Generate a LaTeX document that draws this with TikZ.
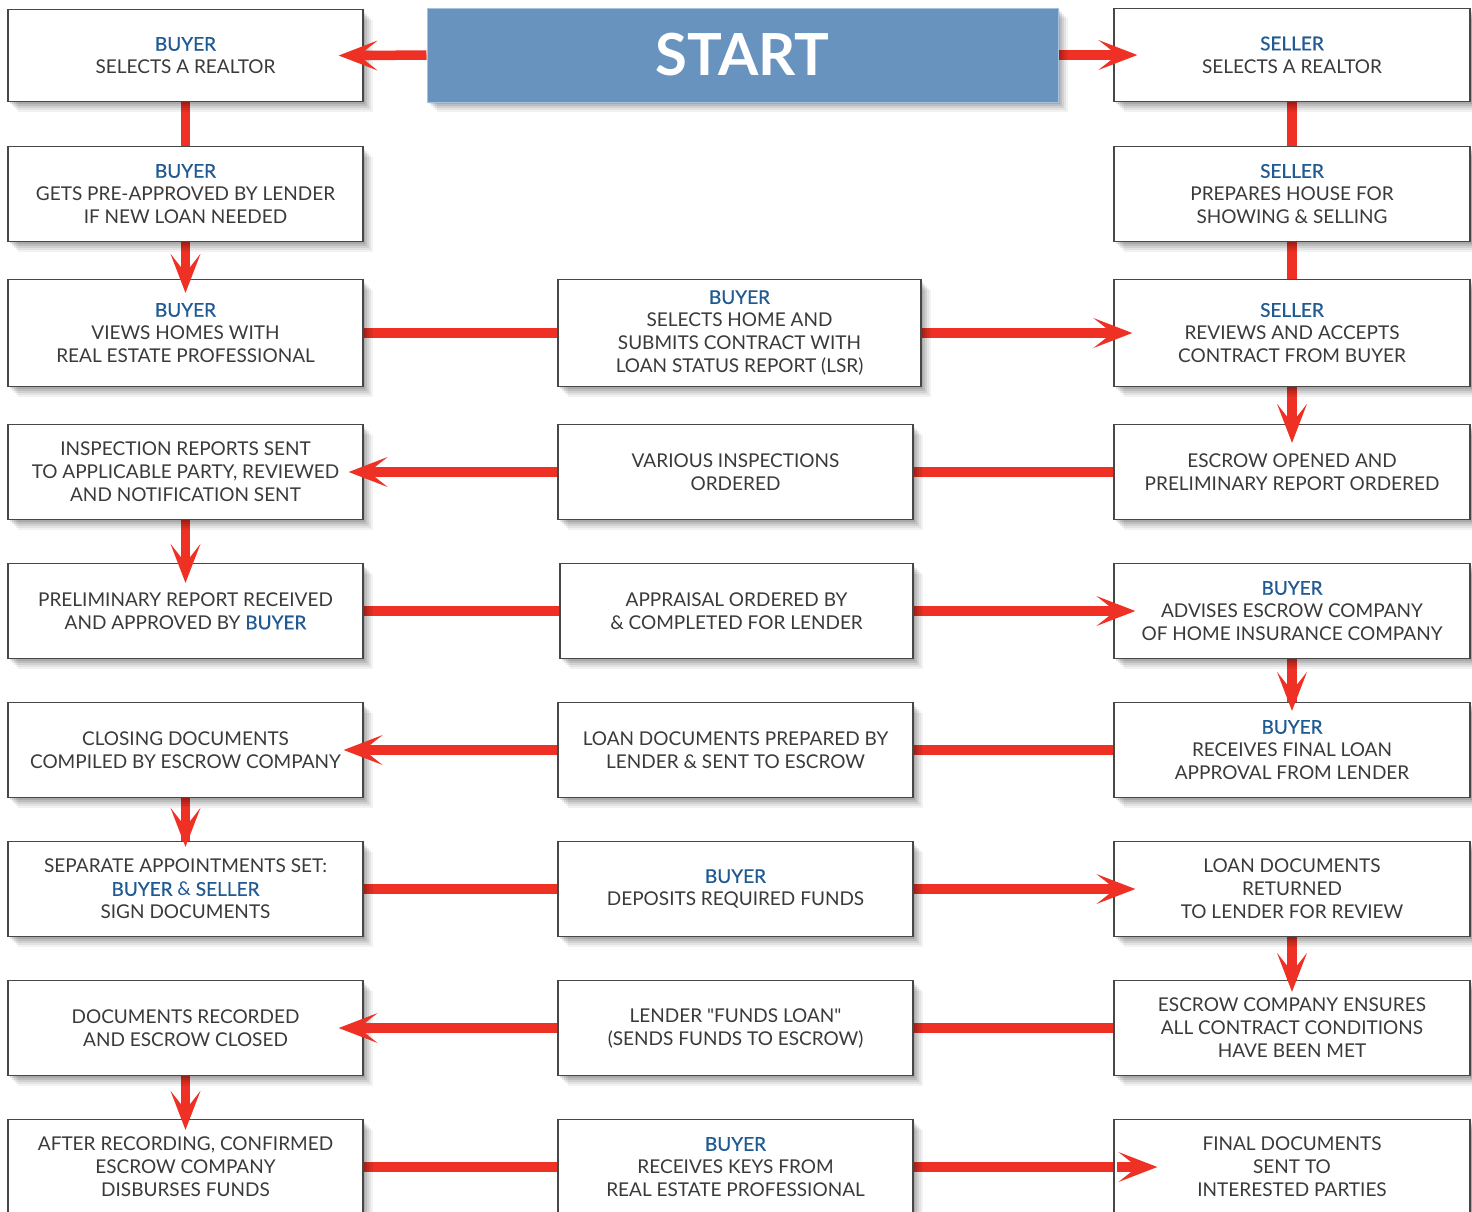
\documentclass[tikz,border=0pt]{standalone}
\usepackage{fontspec}
\setmainfont{Lato}
\newfontfamily\lblfont[FakeBold=0.5]{Lato}
\usetikzlibrary{arrows.meta,shadows}
\definecolor{redc}{HTML}{EE3124}
\definecolor{lblc}{HTML}{1F5A93}
\definecolor{txtc}{HTML}{3A3A3A}
\definecolor{startc}{HTML}{6893BE}
\definecolor{startb}{HTML}{A9C1DB}
\newcommand\who[1]{{\lblfont\color{lblc}#1}}
\pgfdeclarelayer{bg}\pgfdeclarelayer{fg}\pgfsetlayers{bg,main,fg}
\tikzset{
  softshadow/.style={
    general shadow={shadow xshift=2pt,shadow yshift=-2pt,fill=black,opacity=.10},
    general shadow={shadow xshift=4pt,shadow yshift=-4pt,fill=black,opacity=.09},
    general shadow={shadow xshift=6pt,shadow yshift=-6pt,fill=black,opacity=.08},
    general shadow={shadow xshift=8pt,shadow yshift=-8pt,fill=black,opacity=.06},
    general shadow={shadow xshift=10pt,shadow yshift=-10pt,fill=black,opacity=.05}},
  box/.style={draw=black!72, line width=1.3pt, fill=white, inner sep=0pt,
    align=center, text=txtc, font=\fontsize{19}{23}\selectfont,
    minimum width=355pt, minimum height=95pt, softshadow},
  startbox/.style={draw=startb, line width=1pt, fill=startc, inner sep=0pt,
    text=white, font=\fontsize{58}{60}\selectfont\bfseries,
    minimum width=631pt, minimum height=94pt, softshadow},
  shaft/.style={draw=redc, line width=9.5pt},
  arr/.style={draw=redc, line width=9.5pt,
    -{Stealth[length=39pt,width=30pt,inset=19pt,line width=0pt]}}
}
\begin{document}
\begin{tikzpicture}[x=1pt,y=-1pt]
\useasboundingbox (0,0) rectangle (1472,1211);
% nodes
\node[startbox] (st) at (742.5,55) {START};
\node[box,minimum height=92pt] (l1) at (185.5,55.5) {\who{BUYER}\\SELECTS A REALTOR};
\node[box,minimum width=356pt,minimum height=93pt] (r1) at (1292,55) {\who{SELLER}\\SELECTS A REALTOR};
\node[box] (l2) at (185.5,194) {\who{BUYER}\\GETS PRE-APPROVED BY LENDER\\IF NEW LOAN NEEDED};
\node[box,minimum width=356pt] (r2) at (1292,194) {\who{SELLER}\\PREPARES HOUSE FOR\\SHOWING \& SELLING};
\node[box,minimum height=107pt] (l3) at (185.5,333) {\who{BUYER}\\VIEWS HOMES WITH\\REAL ESTATE PROFESSIONAL};
\node[box,minimum width=363pt,minimum height=107pt] (c3) at (739.5,333) {\who{BUYER}\\SELECTS HOME AND\\SUBMITS CONTRACT WITH\\LOAN STATUS REPORT (LSR)};
\node[box,minimum width=356pt,minimum height=107pt] (r3) at (1292,333) {\who{SELLER}\\REVIEWS AND ACCEPTS\\CONTRACT FROM BUYER};
\node[box] (l4) at (185.5,472) {INSPECTION REPORTS SENT\\TO APPLICABLE PARTY, REVIEWED\\AND NOTIFICATION SENT};
\node[box] (c4) at (735.5,472) {VARIOUS INSPECTIONS\\ORDERED};
\node[box,minimum width=356pt] (r4) at (1292,472) {ESCROW OPENED AND\\PRELIMINARY REPORT ORDERED};
\node[box] (l5) at (185.5,611) {PRELIMINARY REPORT RECEIVED\\AND APPROVED BY \who{BUYER}};
\node[box,minimum width=353pt] (c5) at (736.5,611) {APPRAISAL ORDERED BY\\\& COMPLETED FOR LENDER};
\node[box,minimum width=356pt] (r5) at (1292,611) {\who{BUYER}\\ADVISES ESCROW COMPANY\\OF HOME INSURANCE COMPANY};
\node[box] (l6) at (185.5,750) {CLOSING DOCUMENTS\\COMPILED BY ESCROW COMPANY};
\node[box] (c6) at (735.5,750) {LOAN DOCUMENTS PREPARED BY\\LENDER \& SENT TO ESCROW};
\node[box,minimum width=356pt] (r6) at (1292,750) {\who{BUYER}\\RECEIVES FINAL LOAN\\APPROVAL FROM LENDER};
\node[box] (l7) at (185.5,889) {SEPARATE APPOINTMENTS SET:\\\who{BUYER} {\color{lblc}\&} \who{SELLER}\\SIGN DOCUMENTS};
\node[box] (c7) at (735.5,889) {\who{BUYER}\\DEPOSITS REQUIRED FUNDS};
\node[box,minimum width=356pt] (r7) at (1292,889) {LOAN DOCUMENTS\\RETURNED\\TO LENDER FOR REVIEW};
\node[box] (l8) at (185.5,1028) {DOCUMENTS RECORDED\\AND ESCROW CLOSED};
\node[box] (c8) at (735.5,1028) {LENDER \textquotedbl FUNDS LOAN\textquotedbl\\(SENDS FUNDS TO ESCROW)};
\node[box,minimum width=356pt] (r8) at (1292,1028) {ESCROW COMPANY ENSURES\\ALL CONTRACT CONDITIONS\\HAVE BEEN MET};
\node[box] (l9) at (185.5,1167) {AFTER RECORDING, CONFIRMED\\ESCROW COMPANY\\DISBURSES FUNDS};
\node[box] (c9) at (735.5,1167) {\who{BUYER}\\RECEIVES KEYS FROM\\REAL ESTATE PROFESSIONAL};
\node[box,minimum width=356pt] (r9) at (1292,1167) {FINAL DOCUMENTS\\SENT TO\\INTERESTED PARTIES};
% shafts
\begin{pgfonlayer}{bg}
\fill[white] (0,0) rectangle (1472,1211);
\draw[shaft] (st.west) -- (l1.east);
\draw[shaft] (st.east) -- (r1.west);
\draw[shaft] (l1.south) -- (l2.north);
\draw[shaft] (l2.south) -- (l3.north);
\draw[shaft] (l3.east) -- (c3.west);
\draw[shaft] (c3.east) -- (r3.west);
\draw[shaft] (r1.south) -- (r2.north);
\draw[shaft] (r2.south) -- (r3.north);
\draw[shaft] (r3.south) -- (r4.north);
\draw[shaft] (r4.west) -- (c4.east);
\draw[shaft] (c4.west) -- (l4.east);
\draw[shaft] (l4.south) -- (l5.north);
\draw[shaft] (l5.east) -- (c5.west);
\draw[shaft] (c5.east) -- (r5.west);
\draw[shaft] (r5.south) -- (r6.north);
\draw[shaft] (r6.west) -- (c6.east);
\draw[shaft] (c6.west) -- (l6.east);
\draw[shaft] (l6.south) -- (l7.north);
\draw[shaft] (l7.east) -- (c7.west);
\draw[shaft] (c7.east) -- (r7.west);
\draw[shaft] (r7.south) -- (r8.north);
\draw[shaft] (r8.west) -- (c8.east);
\draw[shaft] (c8.west) -- (l8.east);
\draw[shaft] (l8.south) -- (l9.north);
\draw[shaft] (l9.east) -- (c9.west);
\draw[shaft] (c9.east) -- (r9.west);
\end{pgfonlayer}
% arrow heads
\begin{pgfonlayer}{fg}
\draw[arr] ([xshift=17pt]l1.east) -- ([xshift=-25pt]l1.east);
\draw[arr] ([xshift=-18pt]r1.west) -- ([xshift=24pt]r1.west);
\draw[arr] ([yshift=26pt]l3.north) -- ([yshift=-14pt]l3.north);
\draw[arr] ([xshift=-21pt]r3.west) -- ([xshift=19pt]r3.west);
\draw[arr] ([yshift=21pt]r4.north) -- ([yshift=-19pt]r4.north);
\draw[arr] ([xshift=25pt]l4.east) -- ([xshift=-15pt]l4.east);
\draw[arr] ([yshift=20pt]l5.north) -- ([yshift=-20pt]l5.north);
\draw[arr] ([xshift=-18pt]r5.west) -- ([xshift=22pt]r5.west);
\draw[arr] ([yshift=31pt]r6.north) -- ([yshift=-9pt]r6.north);
\draw[arr] ([xshift=20pt]l6.east) -- ([xshift=-20pt]l6.east);
\draw[arr] ([yshift=34pt]l7.north) -- ([yshift=-6pt]l7.north);
\draw[arr] ([xshift=-18pt]r7.west) -- ([xshift=22pt]r7.west);
\draw[arr] ([yshift=28pt]r8.north) -- ([yshift=-12pt]r8.north);
\draw[arr] ([xshift=15pt]l8.east) -- ([xshift=-25pt]l8.east);
\draw[arr] ([yshift=29pt]l9.north) -- ([yshift=-11pt]l9.north);
\draw[arr] ([xshift=4pt]r9.west) -- ([xshift=44pt]r9.west);
\end{pgfonlayer}
\end{tikzpicture}
\end{document}
